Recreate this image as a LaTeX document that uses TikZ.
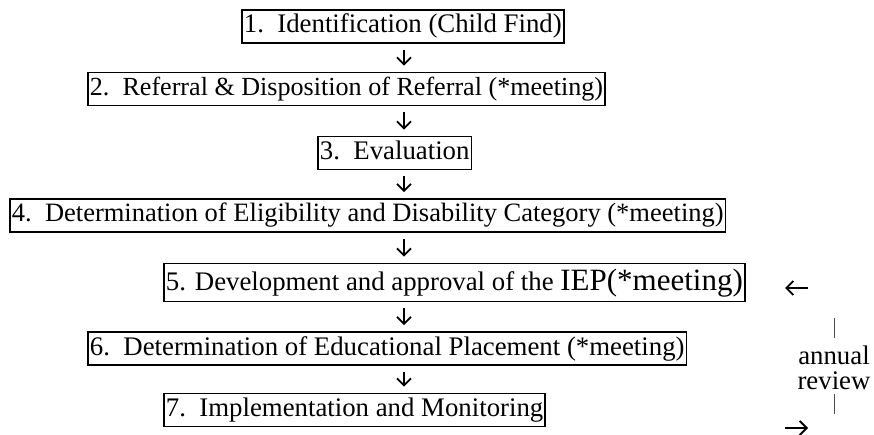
\documentclass[tikz,border=0pt]{standalone}
\usepackage{fontspec}
\setmainfont{Liberation Serif}
\usetikzlibrary{arrows.meta}

\begin{document}
\begin{tikzpicture}[x=1pt, y=-1pt,
		stagebox/.style={draw=black, line width=1.8pt, anchor=west, inner xsep=2pt, inner ysep=4pt,
			text height=19pt, text depth=6pt, font=\fontsize{26.8}{30}\selectfont},
		flow/.style={-{Straight Barb[length=7pt, width=14pt, line width=1.8pt]}, line width=1.8pt},
		down/.style={flow, shorten <=6pt, shorten >=6pt},
		tick/.style={draw=black!70, line width=0.9pt}]
		\useasboundingbox (0,0) rectangle (874,435);

		\node[stagebox] (identify) at (241,26.5) {1.\ \ Identification (Child Find)};
		\node[stagebox, font=\fontsize{26.1}{30}\selectfont] (referral) at (87,89) {2.\ \ Referral \& Disposition of Referral (*meeting)};
		\node[stagebox] (evaluate) at (317,153) {3.\ \ Evaluation};
		\node[stagebox, font=\fontsize{26.5}{30}\selectfont] (eligible) at (9,215.5) {4.\ \ Determination of Eligibility and Disability Category (*meeting)};
		\node[stagebox, text height=23pt, text depth=7pt] (iep) at (163,282.5)
			{5. Development and approval of the {\fontsize{31}{34}\selectfont IEP(*meeting)}};
		\node[stagebox] (place) at (87,348.5) {6.\ \ Determination of Educational Placement (*meeting)};
		\node[stagebox] (monitor) at (163,410) {7.\ \ Implementation and Monitoring};

		% arrows down the middle
		\coordinate (mid) at (404,0);
		\draw[down] (identify.south -| mid) -- (referral.north -| mid);
		\draw[down] (referral.south -| mid) -- (evaluate.north -| mid);
		\draw[down] (evaluate.south -| mid) -- (eligible.north -| mid);
		\draw[down] (eligible.south -| mid) -- (iep.north -| mid);
		\draw[down] (iep.south -| mid) -- (place.north -| mid);
		\draw[down] (place.south -| mid) -- (monitor.north -| mid);

		% annual review loop
		\node[font=\fontsize{26.8}{25}\selectfont, align=center, inner sep=0pt] (review) at (834,368) {annual\\review};
		\coordinate (backfrom) at (808,288);
		\coordinate (backto) at (785,288);
		\coordinate (outfrom) at (785,428);
		\coordinate (outto) at (808,428);
		\draw[flow] (backfrom) -- (backto);
		\draw[flow] (outfrom) -- (outto);
		\draw[tick] ([yshift=8pt]review.north) -- ++(0,-20);
		\draw[tick] ([yshift=-4pt]review.south) -- ++(0,20);
	\end{tikzpicture}
\end{document}
